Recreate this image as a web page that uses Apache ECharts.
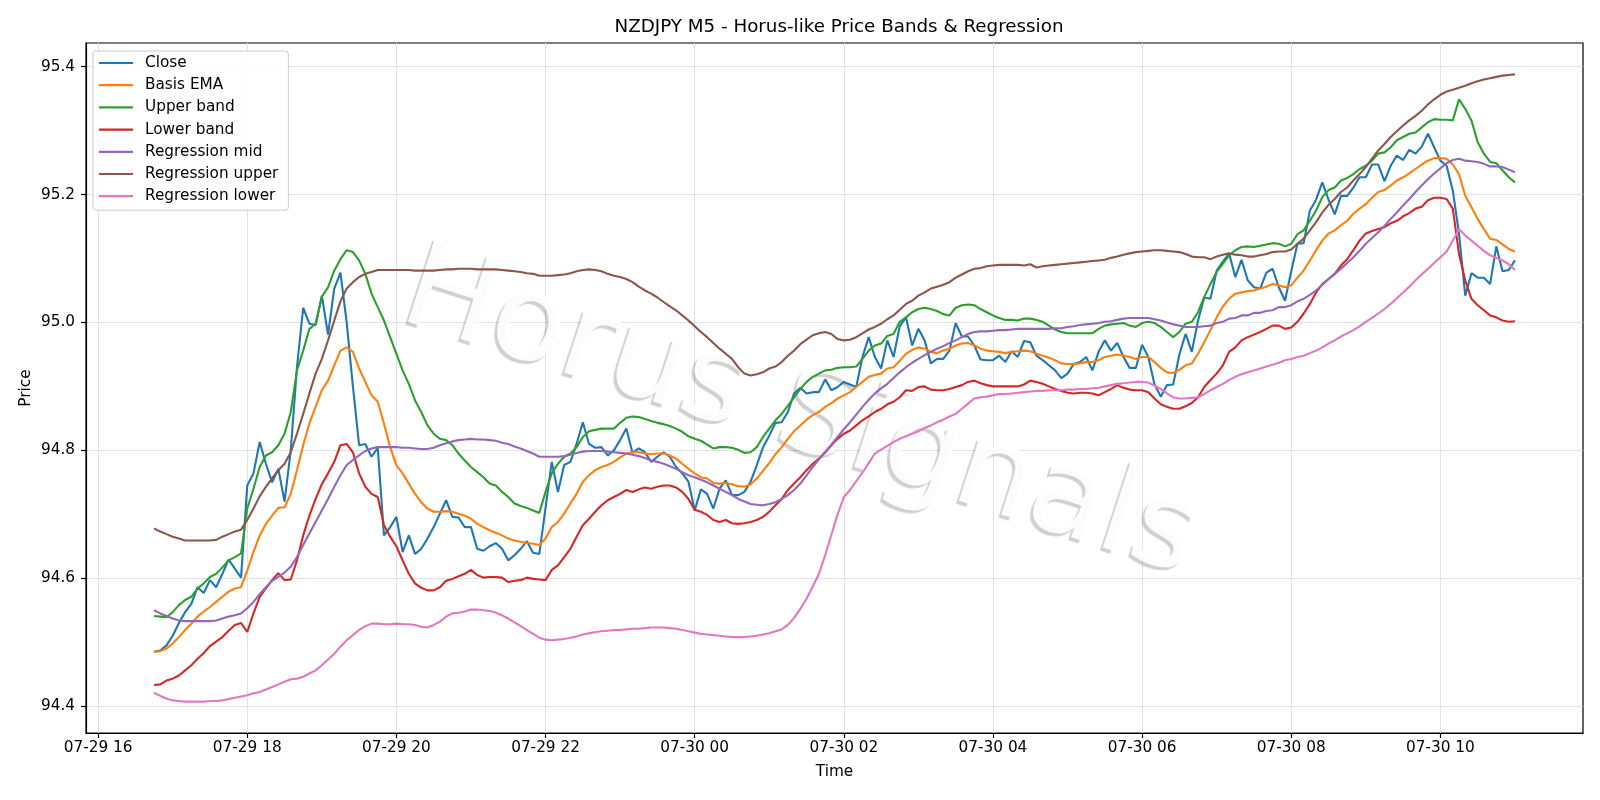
<!DOCTYPE html>
<html>
<head>
<meta charset="utf-8">
<script src="https://cdn.jsdelivr.net/npm/echarts@6/dist/echarts.min.js"></script>
<style>
html,body{margin:0;padding:0;background:#fff;}
#chart{width:1600px;height:800px;}
</style>
</head>
<body>
<div id="chart"></div>
<script>
// ---- data (5-minute bars, NZDJPY) ----
const startLabel = '07-29 16:45';
const startMinute = 45;      // minutes after 07-29 16:00
const stepMinutes = 5;

const close = [94.485,94.487,94.495,94.51,94.53,94.547,94.56,94.586,94.577,94.597,94.586,94.607,94.629,94.615,94.601,94.745,94.764,94.813,94.779,94.75,94.771,94.72,94.80,94.93,95.023,94.998,94.996,95.042,94.981,95.053,95.078,95.0,94.9,94.808,94.81,94.79,94.804,94.667,94.68,94.696,94.641,94.667,94.638,94.646,94.662,94.68,94.701,94.722,94.696,94.695,94.68,94.68,94.646,94.643,94.65,94.655,94.646,94.628,94.636,94.646,94.658,94.64,94.638,94.71,94.782,94.735,94.777,94.782,94.81,94.844,94.81,94.804,94.805,94.792,94.8,94.816,94.834,94.796,94.803,94.797,94.782,94.79,94.797,94.79,94.774,94.764,94.751,94.706,94.739,94.732,94.709,94.74,94.753,94.73,94.73,94.735,94.751,94.777,94.805,94.823,94.843,94.844,94.86,94.889,94.898,94.889,94.891,94.891,94.911,94.894,94.899,94.907,94.903,94.899,94.946,94.977,94.946,94.928,94.972,94.946,94.994,95.008,94.964,94.99,94.972,94.936,94.943,94.943,94.956,94.999,94.978,94.978,94.964,94.942,94.941,94.941,94.948,94.938,94.955,94.946,94.971,94.969,94.948,94.941,94.933,94.925,94.913,94.92,94.935,94.938,94.946,94.925,94.954,94.972,94.956,94.968,94.946,94.929,94.929,94.965,94.946,94.903,94.884,94.902,94.903,94.95,94.982,94.954,95.003,95.039,95.037,95.081,95.095,95.108,95.071,95.098,95.066,95.055,95.053,95.078,95.084,95.055,95.034,95.08,95.123,95.124,95.175,95.192,95.219,95.192,95.169,95.198,95.198,95.211,95.227,95.227,95.247,95.247,95.221,95.245,95.261,95.254,95.27,95.264,95.275,95.295,95.274,95.253,95.245,95.206,95.139,95.042,95.077,95.07,95.07,95.06,95.119,95.08,95.082,95.097];

const basisEma = [94.485,94.486,94.49,94.498,94.508,94.519,94.529,94.54,94.548,94.555,94.563,94.571,94.579,94.584,94.586,94.612,94.641,94.667,94.685,94.698,94.71,94.711,94.732,94.769,94.808,94.842,94.868,94.894,94.909,94.933,94.956,94.961,94.954,94.928,94.907,94.886,94.876,94.842,94.805,94.777,94.764,94.748,94.732,94.719,94.709,94.704,94.704,94.705,94.704,94.701,94.698,94.693,94.685,94.68,94.675,94.671,94.667,94.662,94.659,94.657,94.655,94.654,94.652,94.662,94.68,94.688,94.701,94.717,94.732,94.751,94.761,94.769,94.774,94.777,94.782,94.789,94.795,94.797,94.797,94.795,94.794,94.795,94.795,94.792,94.787,94.779,94.771,94.764,94.758,94.756,94.749,94.748,94.749,94.747,94.744,94.743,94.747,94.756,94.768,94.78,94.794,94.805,94.818,94.83,94.839,94.848,94.855,94.86,94.868,94.874,94.881,94.886,94.891,94.899,94.907,94.915,94.918,94.92,94.928,94.93,94.94,94.951,94.957,94.961,94.959,94.954,94.952,94.956,94.959,94.964,94.967,94.968,94.964,94.959,94.956,94.955,94.954,94.952,94.954,94.955,94.956,94.955,94.951,94.948,94.945,94.941,94.936,94.935,94.935,94.936,94.938,94.938,94.941,94.946,94.948,94.95,94.948,94.946,94.943,94.946,94.946,94.938,94.929,94.922,94.921,94.926,94.933,94.936,94.951,94.969,94.988,95.008,95.025,95.037,95.045,95.047,95.049,95.05,95.053,95.056,95.06,95.058,95.055,95.058,95.07,95.081,95.097,95.113,95.128,95.139,95.144,95.152,95.159,95.17,95.178,95.185,95.195,95.204,95.207,95.214,95.222,95.227,95.233,95.24,95.247,95.253,95.257,95.257,95.256,95.247,95.232,95.198,95.18,95.162,95.146,95.131,95.129,95.122,95.115,95.111];

const upperBand = [94.541,94.54,94.539,94.547,94.558,94.566,94.571,94.584,94.592,94.602,94.607,94.617,94.628,94.633,94.639,94.709,94.74,94.774,94.792,94.797,94.808,94.826,94.86,94.925,94.956,94.99,94.998,95.04,95.055,95.081,95.099,95.113,95.11,95.097,95.076,95.045,95.024,95.003,94.977,94.951,94.925,94.904,94.878,94.86,94.839,94.826,94.818,94.816,94.808,94.795,94.784,94.774,94.766,94.758,94.748,94.745,94.735,94.727,94.717,94.713,94.71,94.706,94.702,94.735,94.764,94.779,94.79,94.795,94.805,94.821,94.83,94.832,94.834,94.834,94.834,94.843,94.851,94.853,94.852,94.849,94.846,94.843,94.841,94.838,94.834,94.829,94.822,94.818,94.815,94.809,94.803,94.805,94.805,94.804,94.801,94.796,94.797,94.805,94.821,94.834,94.847,94.857,94.87,94.883,94.896,94.907,94.915,94.92,94.925,94.926,94.929,94.93,94.93,94.931,94.943,94.956,94.964,94.967,94.979,94.982,95.001,95.008,95.016,95.021,95.023,95.021,95.018,95.013,95.011,95.023,95.027,95.028,95.027,95.021,95.016,95.011,95.007,95.004,95.004,95.003,95.006,95.006,95.004,95.001,94.995,94.989,94.985,94.983,94.983,94.983,94.983,94.983,94.99,94.995,94.997,94.998,94.999,94.995,94.993,94.999,95.001,94.999,94.993,94.985,94.977,94.985,94.998,95.001,95.016,95.04,95.06,95.079,95.092,95.105,95.113,95.118,95.119,95.118,95.12,95.122,95.124,95.123,95.119,95.123,95.138,95.144,95.159,95.175,95.196,95.207,95.211,95.222,95.226,95.232,95.24,95.245,95.253,95.264,95.266,95.274,95.285,95.29,95.295,95.297,95.305,95.313,95.318,95.317,95.317,95.316,95.349,95.334,95.316,95.282,95.264,95.251,95.249,95.238,95.227,95.219];

const lowerBand = [94.433,94.434,94.44,94.443,94.448,94.456,94.464,94.474,94.483,94.494,94.501,94.508,94.518,94.527,94.53,94.516,94.545,94.571,94.584,94.597,94.608,94.597,94.598,94.628,94.667,94.698,94.724,94.747,94.764,94.782,94.808,94.81,94.797,94.764,94.743,94.732,94.727,94.683,94.665,94.65,94.628,94.607,94.592,94.585,94.581,94.581,94.586,94.596,94.599,94.603,94.607,94.613,94.605,94.601,94.602,94.602,94.601,94.594,94.596,94.597,94.601,94.599,94.598,94.597,94.613,94.62,94.633,94.646,94.665,94.683,94.693,94.704,94.714,94.722,94.727,94.732,94.738,94.735,94.739,94.742,94.74,94.743,94.745,94.745,94.742,94.735,94.724,94.707,94.704,94.699,94.691,94.688,94.691,94.686,94.685,94.686,94.688,94.691,94.696,94.704,94.714,94.724,94.738,94.748,94.758,94.769,94.779,94.787,94.797,94.808,94.818,94.826,94.831,94.839,94.847,94.853,94.86,94.865,94.872,94.876,94.883,94.894,94.893,94.899,94.9,94.895,94.894,94.894,94.896,94.899,94.902,94.907,94.909,94.905,94.902,94.9,94.9,94.9,94.9,94.9,94.903,94.909,94.907,94.904,94.9,94.896,94.893,94.89,94.889,94.89,94.89,94.889,94.886,94.891,94.896,94.902,94.898,94.895,94.894,94.894,94.891,94.881,94.872,94.868,94.865,94.865,94.869,94.874,94.883,94.899,94.91,94.92,94.933,94.954,94.961,94.972,94.977,94.981,94.985,94.99,94.995,94.995,94.99,94.992,95.001,95.014,95.029,95.047,95.06,95.068,95.076,95.089,95.099,95.113,95.128,95.139,95.143,95.146,95.149,95.155,95.159,95.166,95.171,95.178,95.181,95.191,95.195,95.195,95.193,95.178,95.107,95.066,95.037,95.027,95.019,95.011,95.008,95.003,95.001,95.002];

const regMid = [94.55,94.545,94.541,94.537,94.534,94.533,94.533,94.533,94.533,94.533,94.534,94.537,94.54,94.542,94.545,94.553,94.563,94.575,94.586,94.596,94.602,94.609,94.618,94.633,94.652,94.67,94.688,94.706,94.724,94.743,94.761,94.777,94.785,94.792,94.799,94.803,94.805,94.805,94.805,94.805,94.804,94.804,94.803,94.802,94.802,94.804,94.808,94.811,94.814,94.816,94.817,94.818,94.817,94.817,94.816,94.815,94.812,94.81,94.806,94.803,94.799,94.795,94.79,94.79,94.79,94.79,94.791,94.793,94.796,94.798,94.799,94.799,94.799,94.798,94.797,94.796,94.795,94.793,94.791,94.788,94.784,94.782,94.779,94.775,94.771,94.766,94.761,94.758,94.754,94.75,94.745,94.74,94.735,94.73,94.724,94.72,94.716,94.715,94.714,94.716,94.719,94.724,94.73,94.738,94.748,94.761,94.774,94.786,94.797,94.809,94.821,94.833,94.844,94.856,94.868,94.879,94.889,94.897,94.904,94.913,94.922,94.93,94.937,94.943,94.949,94.954,94.959,94.963,94.968,94.972,94.977,94.982,94.985,94.986,94.986,94.987,94.988,94.988,94.989,94.99,94.99,94.99,94.99,94.99,94.99,94.991,94.991,94.993,94.994,94.996,94.997,94.998,94.999,95.001,95.002,95.004,95.006,95.007,95.007,95.007,95.007,95.005,95.003,95.0,94.997,94.995,94.993,94.993,94.993,94.994,94.995,94.999,95.001,95.006,95.007,95.011,95.011,95.015,95.015,95.018,95.019,95.024,95.024,95.027,95.033,95.037,95.043,95.05,95.059,95.068,95.076,95.084,95.093,95.102,95.112,95.123,95.132,95.141,95.151,95.162,95.172,95.183,95.193,95.204,95.214,95.224,95.233,95.241,95.249,95.254,95.256,95.253,95.252,95.251,95.248,95.244,95.244,95.243,95.239,95.235];

const regUpper = [94.678,94.673,94.669,94.665,94.662,94.659,94.659,94.659,94.659,94.659,94.66,94.665,94.669,94.673,94.676,94.691,94.709,94.728,94.743,94.756,94.769,94.779,94.797,94.826,94.857,94.889,94.92,94.943,94.972,95.003,95.033,95.053,95.063,95.071,95.076,95.079,95.082,95.082,95.082,95.082,95.082,95.082,95.081,95.081,95.081,95.081,95.082,95.083,95.083,95.084,95.084,95.084,95.083,95.083,95.083,95.083,95.082,95.081,95.08,95.079,95.077,95.076,95.073,95.073,95.073,95.074,95.075,95.077,95.08,95.082,95.083,95.082,95.08,95.076,95.073,95.071,95.068,95.063,95.056,95.05,95.045,95.039,95.032,95.025,95.019,95.011,95.003,94.994,94.985,94.977,94.968,94.959,94.951,94.943,94.93,94.92,94.917,94.919,94.922,94.928,94.931,94.938,94.948,94.956,94.966,94.973,94.98,94.983,94.985,94.982,94.974,94.972,94.973,94.977,94.983,94.989,94.993,94.998,95.005,95.011,95.02,95.029,95.034,95.042,95.047,95.053,95.056,95.059,95.063,95.07,95.075,95.08,95.084,95.085,95.088,95.089,95.09,95.09,95.09,95.09,95.089,95.091,95.086,95.088,95.089,95.09,95.091,95.092,95.093,95.094,95.095,95.096,95.097,95.098,95.101,95.103,95.106,95.108,95.11,95.111,95.112,95.113,95.113,95.112,95.111,95.11,95.107,95.103,95.102,95.102,95.099,95.103,95.106,95.108,95.106,95.105,95.103,95.103,95.105,95.107,95.11,95.111,95.111,95.114,95.123,95.131,95.144,95.157,95.172,95.184,95.193,95.204,95.211,95.222,95.232,95.243,95.256,95.269,95.279,95.29,95.299,95.308,95.316,95.323,95.331,95.341,95.349,95.356,95.361,95.364,95.367,95.37,95.374,95.377,95.38,95.382,95.384,95.386,95.387,95.388];

const regLower = [94.421,94.416,94.412,94.409,94.408,94.407,94.407,94.407,94.407,94.408,94.408,94.409,94.411,94.413,94.415,94.417,94.42,94.422,94.426,94.43,94.434,94.438,94.442,94.443,94.446,94.451,94.456,94.464,94.473,94.482,94.493,94.503,94.511,94.519,94.525,94.529,94.529,94.528,94.528,94.529,94.528,94.528,94.527,94.524,94.523,94.527,94.532,94.54,94.545,94.546,94.548,94.551,94.551,94.55,94.549,94.546,94.542,94.537,94.531,94.525,94.519,94.513,94.507,94.504,94.503,94.504,94.505,94.507,94.509,94.512,94.514,94.516,94.517,94.518,94.519,94.519,94.52,94.521,94.521,94.522,94.523,94.523,94.523,94.522,94.521,94.519,94.517,94.515,94.513,94.512,94.511,94.51,94.509,94.508,94.508,94.508,94.509,94.51,94.512,94.514,94.517,94.52,94.527,94.538,94.552,94.568,94.587,94.607,94.636,94.668,94.7,94.727,94.738,94.752,94.765,94.78,94.795,94.801,94.807,94.813,94.818,94.822,94.826,94.83,94.835,94.839,94.844,94.848,94.853,94.857,94.865,94.873,94.881,94.883,94.884,94.886,94.888,94.888,94.889,94.89,94.891,94.892,94.893,94.893,94.894,94.894,94.894,94.895,94.895,94.896,94.896,94.897,94.898,94.9,94.902,94.904,94.905,94.906,94.907,94.907,94.906,94.901,94.896,94.889,94.883,94.881,94.881,94.882,94.883,94.888,94.894,94.899,94.904,94.91,94.915,94.919,94.922,94.925,94.928,94.931,94.934,94.937,94.941,94.943,94.946,94.948,94.952,94.956,94.961,94.967,94.972,94.978,94.983,94.988,94.994,95.001,95.007,95.014,95.021,95.029,95.038,95.047,95.056,95.066,95.075,95.084,95.093,95.102,95.111,95.128,95.146,95.136,95.128,95.12,95.112,95.105,95.101,95.097,95.091,95.082];

const seriesNames = ['Close','Basis EMA','Upper band','Lower band','Regression mid','Regression upper','Regression lower'];
const seriesColors = ['#1f77b4','#ff7f0e','#2ca02c','#d62728','#9467bd','#8c564b','#e377c2'];
const seriesValues = [close, basisEma, upperBand, lowerBand, regMid, regUpper, regLower];

// x ticks (minutes after 07-29 16:00)
const xTickValues = [0,120,240,360,480,600,720,840,960,1080];
const xTickLabels = ['07-29 16','07-29 18','07-29 20','07-29 22','07-30 00','07-30 02','07-30 04','07-30 06','07-30 08','07-30 10'];
const yTickValues = [94.4,94.6,94.8,95.0,95.2,95.4];
const yTickLabels = ['94.4','94.6','94.8','95.0','95.2','95.4'];

const xMin = -9.75, xMax = 1194.75;
const yMin = 94.358, yMax = 95.437;

const xs = close.map((_, i) => startMinute + stepMinutes * i);

const FONT = 'DejaVu Sans';
const chart = echarts.init(document.getElementById('chart'), null, {renderer: 'canvas', devicePixelRatio: 1});

const series = seriesNames.map((name, k) => ({
  name: name,
  type: 'line',
  data: seriesValues[k].map((v, i) => [xs[i], v]),
  showSymbol: false,
  symbol: 'none',
  color: seriesColors[k],
  lineStyle: {width: 2.1, color: seriesColors[k]},
  z: 2 + k * 0.01,
  animation: false
}));

const option = {
  animation: false,
  backgroundColor: '#ffffff',
  textStyle: {fontFamily: FONT},
  title: {
    text: 'NZDJPY M5 - Horus-like Price Bands & Regression',
    left: 834, top: 13, textAlign: 'center',
    textStyle: {fontFamily: FONT, fontSize: 18.3, fontWeight: 'normal', color: '#000'}
  },
  grid: {
    left: 86, right: 17, top: 43, bottom: 67,
    show: true, borderColor: '#000', borderWidth: 1.2, backgroundColor: 'transparent'
  },
  legend: {
    orient: 'vertical',
    left: 93, top: 51,
    icon: 'rect',
    itemWidth: 34, itemHeight: 2.2,
    itemGap: 6.2,
    padding: [4, 10, 6, 6],
    backgroundColor: 'rgba(255,255,255,0.85)',
    borderColor: '#cccccc', borderWidth: 1, borderRadius: 3,
    textStyle: {fontFamily: FONT, fontSize: 15.3, color: '#000', lineHeight: 16, padding: [0, 0, 0, 7]},
    data: seriesNames
  },
  graphic: [{
    type: 'text',
    x: 800, y: 416,
    rotation: -18 * Math.PI / 180,
    z: 1,
    silent: true,
    style: {
      text: 'Horus Signals',
      font: '121px "DejaVu Sans"',
      fill: 'rgba(255,255,255,0.92)',
      textAlign: 'center',
      textVerticalAlign: 'middle',
      textShadowColor: 'rgba(0,0,0,0.2)',
      textShadowBlur: 1,
      textShadowOffsetX: -3,
      textShadowOffsetY: 3
    }
  }],
  xAxis: {
    type: 'value',
    min: xMin, max: xMax,
    name: 'Time', nameLocation: 'middle', nameGap: 32,
    nameTextStyle: {fontFamily: FONT, fontSize: 15.3, color: '#000'},
    axisLine: {show: true, onZero: false, lineStyle: {color: '#000', width: 1.2}},
    axisTick: {show: true, length: 5, inside: false, customValues: xTickValues, lineStyle: {color: '#000', width: 1.2}},
    axisLabel: {
      customValues: xTickValues, margin: 8,
      fontFamily: FONT, fontSize: 15.3, color: '#000',
      formatter: v => { const k = xTickValues.indexOf(Math.round(v)); return k >= 0 ? xTickLabels[k] : ''; }
    },
    splitLine: {show: true, lineStyle: {color: '#e2e2e2', width: 1}}
  },
  yAxis: {
    type: 'value',
    min: yMin, max: yMax,
    name: 'Price', nameLocation: 'middle', nameGap: 52, nameRotate: 90,
    nameMoveOverlap: false,
    nameTextStyle: {fontFamily: FONT, fontSize: 15.3, color: '#000'},
    axisLine: {show: true, onZero: false, lineStyle: {color: '#000', width: 1.2}},
    axisTick: {show: true, length: 5, inside: false, customValues: yTickValues, lineStyle: {color: '#000', width: 1.2}},
    axisLabel: {
      customValues: yTickValues, margin: 11,
      fontFamily: FONT, fontSize: 15.3, color: '#000',
      formatter: v => { const k = yTickValues.findIndex(t => Math.abs(t - v) < 1e-6); return k >= 0 ? yTickLabels[k] : ''; }
    },
    splitLine: {show: true, lineStyle: {color: '#e2e2e2', width: 1}}
  },
  series: series
};
chart.setOption(option);
</script>
</body>
</html>
